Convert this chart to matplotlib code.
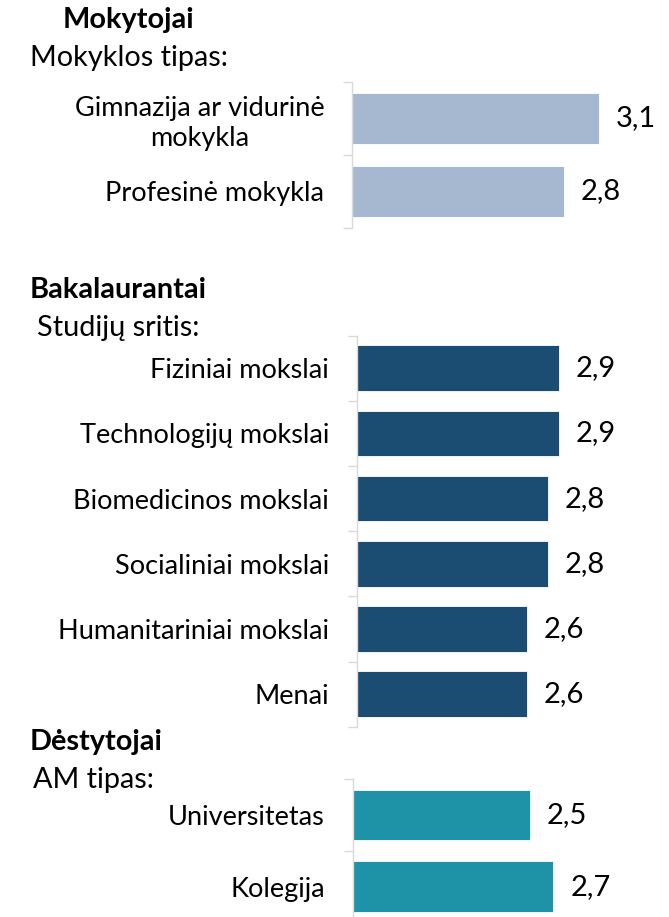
import matplotlib.pyplot as plt
from matplotlib.ticker import FixedLocator

plt.rcParams['font.family'] = ['Lato', 'DejaVu Sans']

# Teachers by school type
mok_labels = ['Gimnazija ar vidurinė\nmokykla', 'Profesinė mokykla']
mok_values = [3.1, 2.8]

# Bachelor students by field of study
bak_labels = ['Fiziniai mokslai', 'Technologijų mokslai', 'Biomedicinos mokslai',
              'Socialiniai mokslai', 'Humanitariniai mokslai', 'Menai']
bak_values = [2.9, 2.9, 2.8, 2.8, 2.6, 2.6]

# Lecturers by institution type
des_labels = ['Universitetas', 'Kolegija']
des_values = [2.5, 2.7]

W, H = 669, 917
fig = plt.figure(figsize=(W / 100, H / 100), dpi=100)

AXIS_GREY = '#d9d9d9'
LABEL_SIZE = 19.5
VALUE_SIZE = 21
HEAD_SIZE = 20.8


def panel(left, top, bottom, right, xmax, labels, values, color):
    ax = fig.add_axes([left / W, 1 - bottom / H, (right - left) / W, (bottom - top) / H])
    n = len(values)
    ax.barh(range(n), values, left=0, height=0.7, color=color, edgecolor='white',
            linewidth=0.6)
    # bars start from 1 on the scale
    ax.set_xlim(1, xmax)
    ax.set_ylim(n - 0.5, -0.5)
    ax.set_yticks(range(n))
    ax.set_yticklabels(labels, fontsize=LABEL_SIZE, linespacing=1.25)
    for lbl in ax.get_yticklabels():
        lbl.set_multialignment('center')
    ax.yaxis.set_minor_locator(FixedLocator([i - 0.5 for i in range(n + 1)]))
    ax.tick_params(axis='y', which='major', length=0, pad=20)
    ax.tick_params(axis='y', which='minor', length=6.5, width=1, color=AXIS_GREY)
    ax.set_xticks([])
    for side in ['top', 'right', 'bottom']:
        ax.spines[side].set_visible(False)
    ax.spines['left'].set_color(AXIS_GREY)
    ax.spines['left'].set_linewidth(1)
    for i, v in enumerate(values):
        ax.annotate(f'{v:.1f}'.replace('.', ','), (v, i), xytext=(12, 0),
                    textcoords='offset points', va='center', ha='left',
                    fontsize=VALUE_SIZE)
    ax.patch.set_alpha(0)
    return ax


panel(352, 82, 228, 660, 1 + 308 / 117.6, mok_labels, mok_values, '#a5b8d0')
panel(357, 335.7, 726.7, 660, 1 + 303 / 106.1, bak_labels, bak_values, '#1b4d72')
panel(352.7, 779, 922.4, 660, 1 + 307 / 118, des_labels, des_values, '#1e93a7')

# group headings
fig.text(63 / W, 1 - 20 / H, 'Mokytojai', fontsize=HEAD_SIZE, fontweight='bold', va='center')
fig.text(30 / W, 1 - 58 / H, 'Mokyklos tipas:', fontsize=HEAD_SIZE, va='center')
fig.text(30 / W, 1 - 290 / H, 'Bakalaurantai', fontsize=HEAD_SIZE, fontweight='bold', va='center')
fig.text(37 / W, 1 - 328 / H, 'Studijų sritis:', fontsize=HEAD_SIZE, va='center')
fig.text(30 / W, 1 - 742 / H, 'Dėstytojai', fontsize=HEAD_SIZE, fontweight='bold', va='center')
fig.text(33 / W, 1 - 780 / H, 'AM tipas:', fontsize=HEAD_SIZE, va='center')

fig.savefig('out.png', dpi=100)
